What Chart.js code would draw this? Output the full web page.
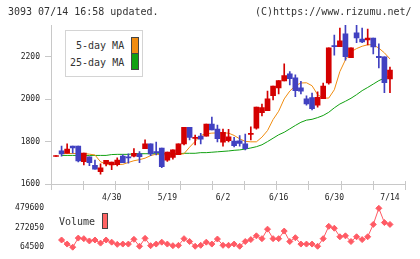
<!DOCTYPE html>
<html>
<head>
<meta charset="utf-8">
<script src="https://cdn.jsdelivr.net/npm/chart.js@4/dist/chart.umd.min.js"></script>
<style>
body { margin: 0; background: #fff; }
#wrap { position: relative; width: 420px; height: 259px; overflow: hidden; font-family: "DejaVu Sans Mono", monospace; color: #333; }
canvas { position: absolute; left: 0; top: 0; }
.t { position: absolute; font-size: 10px; line-height: 12px; white-space: pre; }
.sw { position: absolute; box-sizing: border-box; border: 1px solid #444; }
</style>
</head>
<body>
<div id="wrap">
  <canvas id="price" width="420" height="205"></canvas>
  <canvas id="vol" width="420" height="259"></canvas>
  <div class="t" style="left:8px;top:6px">3093 07/14 16:58 updated.</div>
  <div class="t" style="left:255px;top:6px">(C)https://www.rizumu.net/</div>
  <div style="position:absolute;left:65px;top:30px;width:78px;height:47px;box-sizing:border-box;border:1px solid #d4d4d4;background:#fff"></div>
  <div class="t" style="left:76px;top:40px">5-day MA</div>
  <div class="t" style="left:70px;top:57px">25-day MA</div>
  <div class="sw" style="left:131px;top:37px;width:8px;height:17px;background:#f08c10"></div>
  <div class="sw" style="left:131px;top:53px;width:8px;height:17px;background:#10a010"></div>
  <div class="t" style="left:59px;top:216px">Volume</div>
  <div class="sw" style="left:102px;top:213px;width:6px;height:16px;background:#ff6464"></div>
</div>
<script>
// 3093, daily candles 4/15 .. 7/14 (61 sessions)
const tickIdx = [10, 20, 30, 40, 50, 60];
const tickLabels = ['4/30', '5/19', '6/2', '6/16', '6/30', '7/14'];
const priceTicks = [1600, 1800, 2000, 2200];
const volTicks = [64500, 272050, 479600];

const open  = [1731,1758,1747,1780,1780,1706,1729,1689,1659,1696,1691,1692,1733,1729,1733,1743,1768,1790,1754,1771,
               1714,1727,1739,1790,1868,1816,1827,1827,1884,1860,1798,1805,1804,1805,1790,1835,1864,1937,1947,2017,
               2054,2087,2120,2101,2054,2002,2008,1973,2003,2077,2253,2248,2308,2196,2313,2284,2280,2289,2202,2200,2096];
const high  = [1735,1780,1790,1780,1780,1747,1729,1714,1696,1713,1705,1725,1739,1743,1768,1754,1809,1790,1799,1771,
               1752,1762,1790,1868,1868,1832,1840,1884,1916,1879,1860,1859,1821,1829,1837,1871,1963,1978,2039,2063,
               2088,2167,2131,2115,2085,2017,2029,2035,2076,2242,2302,2336,2350,2242,2350,2336,2331,2289,2261,2200,2152];
const low   = [1731,1733,1747,1747,1705,1691,1688,1671,1648,1686,1669,1686,1702,1700,1729,1702,1768,1735,1738,1678,
               1708,1718,1739,1785,1809,1785,1790,1827,1856,1799,1780,1799,1776,1780,1762,1809,1859,1922,1947,1997,
               2025,2087,2068,2013,2025,1972,1950,1963,2003,2072,2208,2248,2185,2196,2267,2267,2256,2214,2148,2031,2031];
const close = [1735,1743,1766,1771,1710,1747,1702,1671,1678,1713,1705,1714,1702,1724,1746,1730,1790,1743,1749,1683,
               1752,1762,1790,1868,1821,1821,1813,1884,1856,1815,1845,1824,1782,1793,1768,1840,1963,1961,2002,2063,
               2088,2112,2097,2041,2039,1978,1956,2010,2063,2242,2248,2275,2201,2242,2289,2270,2289,2247,2196,2079,2138];
const ma5   = [null,1745,1745,1745,1745,1745,1742,1738,1706,1695,1694,1694,1694,1703,1711,1716,1723,1735,1742,1739,
               1739,1739,1741,1744,1775,1802,1830,1838,1841,1842,1842,1841,1830,1814,1802,1800,1800,1822,1853,1905,
               1944,2002,2039,2064,2077,2078,2064,2022,2006,2006,2045,2131,2186,2224,2239,2250,2257,2257,2241,2219,2190];
const ma25  = [null,1736,1736,1736,1736,1736,1736,1736,1736,1736,1740,1741,1741,1741,1744,1744,1744,1744,1744,1744,
               1744,1744,1744,1746,1746,1746,1749,1749,1751,1753,1755,1757,1760,1762,1766,1771,1777,1786,1801,1817,
               1833,1845,1861,1877,1892,1902,1906,1914,1924,1939,1960,1978,1991,2005,2022,2041,2056,2072,2088,2100,2110];
const volume = [null,141400,97900,64500,161700,155600,131300,141400,108000,141400,118200,94900,97900,97900,148500,74600,158700,80700,97900,118200,
               97900,80700,84000,155600,125200,74600,84700,118200,97900,151600,84700,84700,97900,74600,125200,145500,186000,155600,256900,155600,
               155600,236600,125200,165700,97900,97900,97900,74600,155600,287200,267000,175900,186000,125200,175900,145500,175900,307500,479600,327700,307500];

const xMin = -0.9, xMax = 62.7;
const axisFont = { family: 'DejaVu Sans Mono', size: 8 };
const textColor = '#222';
const axisColor = '#c8c8c8';

// 12 evenly spaced tick marks along the date axis (not tied to the labels)
const markVals = Array.from({ length: 12 }, (_, k) => xMin + k * (xMax - xMin) / 11);

const axisMarks = {
    id: 'axisMarks',
    afterDraw(chart) {
        const s = chart.scales.x;
        const c = chart.ctx;
        c.save();
        c.strokeStyle = axisColor;
        c.lineWidth = 1;
        c.beginPath();
        markVals.forEach(v => {
            const px = Math.round(s.getPixelForValue(v)) + 0.5;
            c.moveTo(px, Math.round(s.top) - 3);
            c.lineTo(px, Math.round(s.top) + 6);
        });
        c.stroke();
        c.restore();
    }
};

const candleColor = close.map((c, i) => c >= open[i] ? '#d40000' : '#4141c1');

new Chart(document.getElementById('price'), {
    type: 'line',
    data: {
        datasets: [
            {
                type: 'bar',
                data: open.map((o, i) => ({ x: i, y: [o, close[i]] })),
                backgroundColor: candleColor,
                borderWidth: 0,
                barThickness: 5,
                grouped: false,
                order: 1
            },
            {
                type: 'bar',
                data: low.map((l, i) => ({ x: i, y: [l, high[i]] })),
                backgroundColor: candleColor,
                borderWidth: 0,
                barThickness: 1,
                grouped: false,
                order: 2
            },
            {
                data: ma5.map((v, i) => ({ x: i, y: v })),
                borderColor: '#f08c10',
                borderWidth: 1,
                pointRadius: 0,
                order: 3
            },
            {
                data: ma25.map((v, i) => ({ x: i, y: v })),
                borderColor: '#10a010',
                borderWidth: 1,
                pointRadius: 0,
                order: 4
            }
        ]
    },
    plugins: [axisMarks],
    options: {
        responsive: false,
        animation: false,
        events: [],
        layout: { padding: { top: 25, right: 15, left: 0, bottom: 0 } },
        plugins: { legend: { display: false }, tooltip: { enabled: false } },
        scales: {
            x: {
                type: 'linear', min: xMin, max: xMax, offset: false,
                grid: { display: false, drawTicks: false, offset: false },
                border: { color: axisColor },
                afterBuildTicks: s => { s.ticks = tickIdx.map(v => ({ value: v })); },
                ticks: {
                    autoSkip: false, maxRotation: 0, padding: 9,
                    font: axisFont, color: textColor,
                    callback: (v, k) => tickLabels[k]
                },
                afterFit: s => { s.height = 20.7; }
            },
            y: {
                min: 1600, max: 2350,
                grid: { drawOnChartArea: false, color: axisColor, tickLength: 6 },
                border: { color: axisColor },
                afterBuildTicks: s => { s.ticks = priceTicks.map(v => ({ value: v })); },
                ticks: { padding: 5, font: axisFont, color: textColor, callback: v => String(v) },
                afterFit: s => { s.width = 51; }
            }
        }
    }
});

new Chart(document.getElementById('vol'), {
    type: 'line',
    data: {
        datasets: [{
            data: volume.map((v, i) => ({ x: i, y: v })),
            borderColor: '#ff5a64',
            backgroundColor: '#ff5a64',
            borderWidth: 1,
            pointStyle: 'rectRot',
            pointRadius: 3,
            pointBorderWidth: 1,
            clip: false
        }]
    },
    options: {
        responsive: false,
        animation: false,
        events: [],
        layout: { padding: { top: 208.3, right: 15, left: 0, bottom: 9.7 } },
        plugins: { legend: { display: false }, tooltip: { enabled: false } },
        scales: {
            x: { type: 'linear', min: xMin, max: xMax, display: false },
            y: {
                min: 64500, max: 479600,
                grid: { display: false, drawTicks: false },
                border: { display: false },
                afterBuildTicks: s => { s.ticks = volTicks.map(v => ({ value: v })); },
                ticks: { padding: 7, font: axisFont, color: textColor, callback: v => String(v) },
                afterFit: s => { s.width = 51; }
            }
        }
    }
});
</script>
</body>
</html>
